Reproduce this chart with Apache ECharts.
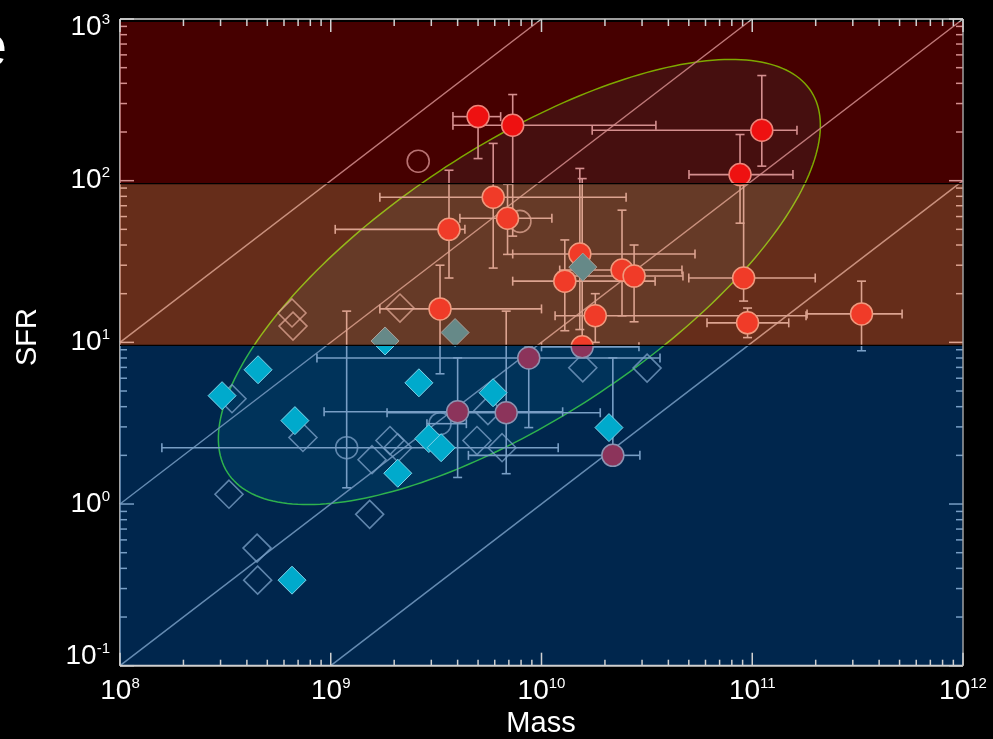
<!DOCTYPE html>
<html><head><meta charset="utf-8">
<script src="https://cdn.jsdelivr.net/npm/echarts/dist/echarts.min.js"></script>
<style>html,body{margin:0;padding:0;background:#000;}#c{width:993px;height:739px;}</style>
</head><body><div id="c"></div>
<script>
// ---------------- data ----------------
const xTickExps = [8, 9, 10, 11, 12];
const yTickExps = [-1, 0, 1, 2, 3];
const bandEdges = [0.1, 10, 100, 1000];          // SFR band limits
const sSFRLines = [1e-10, 1e-9, 1e-8, 1e-7];        // constant specific SFR lines

// ellipse (log10 space): centre [logM, logSFR], semi-axes (dex), angle (deg)
const ellipseCenterLog = [9.895, 1.373];
const ellipseAxesLog = [1.831, 0.763];
const ellipseAngleDeg = 43.5;

// filled circles
const redMass   = [5.0e9, 7.3e9, 1.11e11, 8.75e10, 5.9e9, 6.9e9, 3.64e9, 1.52e10, 1.29e10, 2.41e10, 2.75e10, 9.1e10, 3.3e9, 1.8e10, 9.5e10, 3.3e11, 1.56e10, 8.7e9, 4.0e9, 6.8e9, 2.18e10];
const redSfr    = [249, 220, 205, 109, 79, 58.6, 50, 35.2, 23.9, 28, 25.7, 25, 16.1, 14.6, 13.2, 15, 9.38, 8.0, 3.72, 3.67, 2.0];
const redMassLo = [3.8e9, 3.8e9, 1.74e10, 5.01e10, 1.71e9, 4.1e9, 1.05e9, 7.3e9, 7.3e9, 1.22e10, 1.2e10, 5.0e10, 1.71e9, 1.16e10, 6.1e10, 1.82e11, 1.0e10, 8.6e8, 9.3e8, 1.85e9, 4.5e9];
const redMassHi = [6.4e9, 3.49e10, 1.63e11, 1.56e11, 2.52e10, 1.12e10, 4.33e9, 5.35e10, 3.46e10, 4.64e10, 4.69e10, 1.99e11, 1.0e10, 1.8e11, 1.49e11, 5.14e11, 2.9e10, 3.65e10, 1.26e10, 1.9e10, 2.93e10];
const redSfrLo  = [137, 45.4, 123, 54.6, 28.8, 35, 25, 12, 11.8, 14.6, 13.4, 18, 6.39, 10, 10.7, 8.87, 9.38, 2.97, 1.46, 1.54, 2.0];
const redSfrHi  = [249, 341, 447, 193, 170, 95, 116, 119, 43, 65.7, 40, 95, 30, 20, 16.3, 23.9, 103, 9.5, 8.02, 15.6, 8.02];

// open circles
const openCircMass   = [7.9e9, 2.6e9, 1.19e9, 3.3e9];
const openCircSfr    = [56, 132, 2.23, 3.14];
const openCircMassLo = [7.9e9, 2.6e9, 1.58e8, 2.86e9];
const openCircMassHi = [7.9e9, 2.6e9, 1.2e10, 4.4e9];
const openCircSfrLo  = [56, 132, 1.26, 3.14];
const openCircSfrHi  = [56, 132, 15.6, 3.14];

// filled diamonds
const diaMass = [3.05e8, 4.52e8, 6.76e8, 6.55e8, 2.08e9, 2.62e9, 2.92e9, 3.34e9, 1.81e9, 3.89e9, 1.57e10, 5.89e9, 2.09e10];
const diaSfr  = [4.68, 6.77, 3.28, 0.338, 1.55, 5.62, 2.54, 2.23, 10.2, 11.5, 29.2, 4.88, 2.97];

// open diamonds
const openDiaMass = [6.55e8, 6.62e8, 2.13e9, 3.40e8, 7.38e8, 3.29e8, 1.53e9, 4.47e8, 4.5e8, 1.57e9, 1.91e9, 2.08e9, 4.94e9, 6.5e9, 5.57e9, 1.57e10, 3.17e10];
const openDiaSfr  = [15.2, 12.6, 16.3, 4.48, 2.58, 1.15, 0.863, 0.534, 0.338, 1.88, 2.47, 2.23, 2.47, 2.23, 3.78, 6.96, 6.93];

// ---------------- styling ----------------
const FONT = '"Liberation Sans", Arial, Helvetica, sans-serif';
const ERR = '#dadada';
const BAND_SHIFT = 3;
const bandFill = ['rgba(0,84,171,0.45)', 'rgba(222,98,57,0.46)', 'rgba(205,0,0,0.34)'];

const X0 = 1e8, X1 = 1e12, Y0 = 0.1, Y1 = 1000;

function L(x1, y1, x2, y2, stroke, w) {
  return {type: 'line', shape: {x1, y1, x2, y2}, style: {stroke, lineWidth: w}};
}

const errRows = [];
redMass.forEach((m, i) => errRows.push([m, redSfr[i], redMassLo[i], redMassHi[i], redSfrLo[i], redSfrHi[i]]));
openCircMass.forEach((m, i) => errRows.push([m, openCircSfr[i], openCircMassLo[i], openCircMassHi[i], openCircSfrLo[i], openCircSfrHi[i]]));

function renderErr(params, api) {
  const x = api.value(0), y = api.value(1);
  const xl = api.value(2), xh = api.value(3), yl = api.value(4), yh = api.value(5);
  const c = api.coord([x, y]);
  const ch = [], cap = 4.5, w = 1.6;
  if (xl < x) { const p = api.coord([xl, y]); ch.push(L(p[0], c[1], c[0], c[1], ERR, w), L(p[0], c[1] - cap, p[0], c[1] + cap, ERR, w)); }
  if (xh > x) { const p = api.coord([xh, y]); ch.push(L(c[0], c[1], p[0], c[1], ERR, w), L(p[0], c[1] - cap, p[0], c[1] + cap, ERR, w)); }
  if (yl < y) { const p = api.coord([x, yl]); ch.push(L(c[0], c[1], c[0], p[1], ERR, w), L(c[0] - cap, p[1], c[0] + cap, p[1], ERR, w)); }
  if (yh > y) { const p = api.coord([x, yh]); ch.push(L(c[0], p[1], c[0], c[1], ERR, w), L(c[0] - cap, p[1], c[0] + cap, p[1], ERR, w)); }
  return {type: 'group', children: ch};
}

function renderDiag(params, api) {
  const k = api.value(0);
  const mLo = Math.max(X0, Y0 / k), mHi = Math.min(X1, Y1 / k);
  const a = api.coord([mLo, k * mLo]), b = api.coord([mHi, k * mHi]);
  return L(a[0], a[1], b[0], b[1], '#b8b8b8', 1.5);
}

function renderEllipse(params, api) {
  const th = ellipseAngleDeg * Math.PI / 180;
  const pts = [];
  for (let i = 0; i < 240; i++) {
    const t = i / 240 * 2 * Math.PI;
    const lx = ellipseCenterLog[0] + ellipseAxesLog[0] * Math.cos(th) * Math.cos(t) - ellipseAxesLog[1] * Math.sin(th) * Math.sin(t);
    const ly = ellipseCenterLog[1] + ellipseAxesLog[0] * Math.sin(th) * Math.cos(t) + ellipseAxesLog[1] * Math.cos(th) * Math.sin(t);
    pts.push(api.coord([Math.pow(10, lx), Math.pow(10, ly)]));
  }
  return {type: 'polygon', shape: {points: pts}, style: {fill: 'rgba(0,255,255,0.095)', stroke: '#55ff00', lineWidth: 1.5}};
}

function renderBand(params, api) {
  const i = api.value(0);
  const lo = bandEdges[i], hi = bandEdges[i + 1];
  const a = api.coord([X0, hi]), b = api.coord([X1, lo]);
  const top = a[1] + BAND_SHIFT;
  const bot = i === 0 ? b[1] : b[1] + BAND_SHIFT;
  const ch = [{type: 'rect', shape: {x: a[0], y: top, width: b[0] - a[0], height: bot - top}, style: {fill: bandFill[i]}}];
  if (i > 0) ch.push(L(a[0], bot, b[0], bot, '#000', 1.3));
  return {type: 'group', children: ch};
}

function minorVals(exps) {
  const out = [];
  for (let j = 0; j < exps.length - 1; j++) for (let m = 2; m <= 9; m++) out.push(m * Math.pow(10, exps[j]));
  return out;
}
const xMinor = minorVals(xTickExps), yMinor = minorVals(yTickExps);

function renderFrameUnder(params, api) {
  const bl = api.coord([X0, Y0]), tr = api.coord([X1, Y1]);
  const ch = [L(bl[0], bl[1], bl[0], tr[1], ERR, 1.5)];
  yTickExps.forEach(e => { const y = api.coord([X0, Math.pow(10, e)])[1];
    ch.push(L(bl[0], y, bl[0] + 14, y, ERR, 1.5), L(tr[0], y, tr[0] - 14, y, ERR, 1.5)); });
  yMinor.forEach(v => { const y = api.coord([X0, v])[1];
    ch.push(L(bl[0], y, bl[0] + 7, y, ERR, 1.5), L(tr[0], y, tr[0] - 7, y, ERR, 1.5)); });
  return {type: 'group', children: ch};
}

function renderFrameOver(params, api) {
  const bl = api.coord([X0, Y0]), tr = api.coord([X1, Y1]);
  const C = '#d0d0d0';
  const ch = [L(bl[0], tr[1], tr[0], tr[1], C, 1.5), L(bl[0], bl[1], tr[0], bl[1], C, 2), L(tr[0], tr[1], tr[0], bl[1], '#a0a0a0', 1.5)];
  xTickExps.forEach(e => { const x = api.coord([Math.pow(10, e), Y0])[0];
    ch.push(L(x, bl[1], x, bl[1] - 13, C, 1.5), L(x, tr[1], x, tr[1] + 13, C, 1.5)); });
  xMinor.forEach(v => { const x = api.coord([v, Y0])[0];
    ch.push(L(x, bl[1], x, bl[1] - 6, C, 1.5), L(x, tr[1], x, tr[1] + 7, C, 1.5)); });
  return {type: 'group', children: ch};
}

const richBase = {
  b: {fontSize: 28, fontFamily: FONT, color: '#fff', lineHeight: 30},
  s: {fontSize: 15, fontFamily: FONT, color: '#fff', verticalAlign: 'top', lineHeight: 18},
  g: {fontSize: 8, lineHeight: 16},
  h: {fontSize: 8, lineHeight: 18}
};
const expOf = v => Math.round(Math.log10(v));

const chart = echarts.init(document.getElementById('c'));
chart.setOption({
  backgroundColor: '#000',
  animation: false,
  grid: {left: 120, right: 30, top: 17.3, bottom: 73.3},
  xAxis: {
    type: 'log', logBase: 10, min: X0, max: X1, splitNumber: 4,
    axisLine: {show: false}, axisTick: {show: false}, splitLine: {show: false}, minorTick: {show: false},
    axisLabel: {margin: 11, formatter: v => '{b|10}{s|' + expOf(v) + '}', rich: richBase}
  },
  yAxis: {
    type: 'log', logBase: 10, min: Y0, max: Y1, splitNumber: 4,
    axisLine: {show: false}, axisTick: {show: false}, splitLine: {show: false}, minorTick: {show: false},
    axisLabel: {margin: 10, formatter: v => {
      const e = expOf(v); const s = '{b|10}{s|' + e + '}';
      if (e === yTickExps[yTickExps.length - 1]) return '{g| }\n' + s;
      if (e === yTickExps[0]) return s + '\n{h| }';
      return s;
    }, rich: richBase}
  },
  graphic: [
    {type: 'text', x: 541, y: 724, style: {text: 'Mass', fill: '#fff', font: '29px ' + FONT, align: 'center', verticalAlign: 'middle'}},
    {type: 'text', x: 28, y: 337, rotation: Math.PI / 2, style: {text: 'SFR', fill: '#fff', font: '29px ' + FONT, align: 'center', verticalAlign: 'middle'}},
    {type: 'text', x: 7, y: 49, style: {text: 'e', fill: '#fff', font: '60px ' + FONT, align: 'right', verticalAlign: 'middle'}}
  ],
  series: [
    {type: 'custom', name: 'ellipse', z: 1, silent: true, data: [[1e9, 1]], renderItem: renderEllipse},
    {type: 'custom', name: 'ssfr', z: 1, silent: true, data: sSFRLines.map(k => [k]), encode: {x: -1, y: -1}, renderItem: renderDiag},
    {type: 'custom', name: 'errors', z: 2, silent: true, dimensions: ['m', 's', 'ml', 'mh', 'sl', 'sh'], encode: {x: 0, y: 1}, data: errRows, renderItem: renderErr},
    {type: 'custom', name: 'frameUnder', z: 3, silent: true, data: [[1e9, 1]], renderItem: renderFrameUnder},
    {type: 'scatter', name: 'openDiamonds', z: 3, silent: true, symbol: 'diamond', symbolSize: 28,
      itemStyle: {color: 'rgba(0,0,0,0)', borderColor: '#d8d8d8', borderWidth: 1.6},
      data: openDiaMass.map((m, i) => [m, openDiaSfr[i]])},
    {type: 'scatter', name: 'openCircles', z: 3, silent: true, symbol: 'circle', symbolSize: 22,
      itemStyle: {color: 'rgba(0,0,0,0)', borderColor: '#d8d8d8', borderWidth: 1.6},
      data: openCircMass.map((m, i) => [m, openCircSfr[i]])},
    {type: 'scatter', name: 'circles', z: 4, silent: true, symbol: 'circle', symbolSize: 22,
      itemStyle: {color: '#ff1a1a', borderColor: '#ffc8b8', borderWidth: 1.5, opacity: 1},
      data: redMass.map((m, i) => [m, redSfr[i]])},
    {type: 'custom', name: 'blueBand', z: 5, silent: true, data: [[0]], encode: {x: -1, y: -1}, renderItem: renderBand},
    {type: 'scatter', name: 'diamonds', z: 6, silent: true, symbol: 'diamond', symbolSize: 28,
      itemStyle: {color: '#00aacc', borderColor: '#80d4ea', borderWidth: 1, opacity: 1},
      data: diaMass.map((m, i) => [m, diaSfr[i]])},
    {type: 'custom', name: 'warmBands', z: 7, silent: true, data: [[1], [2]], encode: {x: -1, y: -1}, renderItem: renderBand},
    {type: 'custom', name: 'frameOver', z: 8, silent: true, data: [[1e9, 1]], renderItem: renderFrameOver}
  ]
});
</script></body></html>
